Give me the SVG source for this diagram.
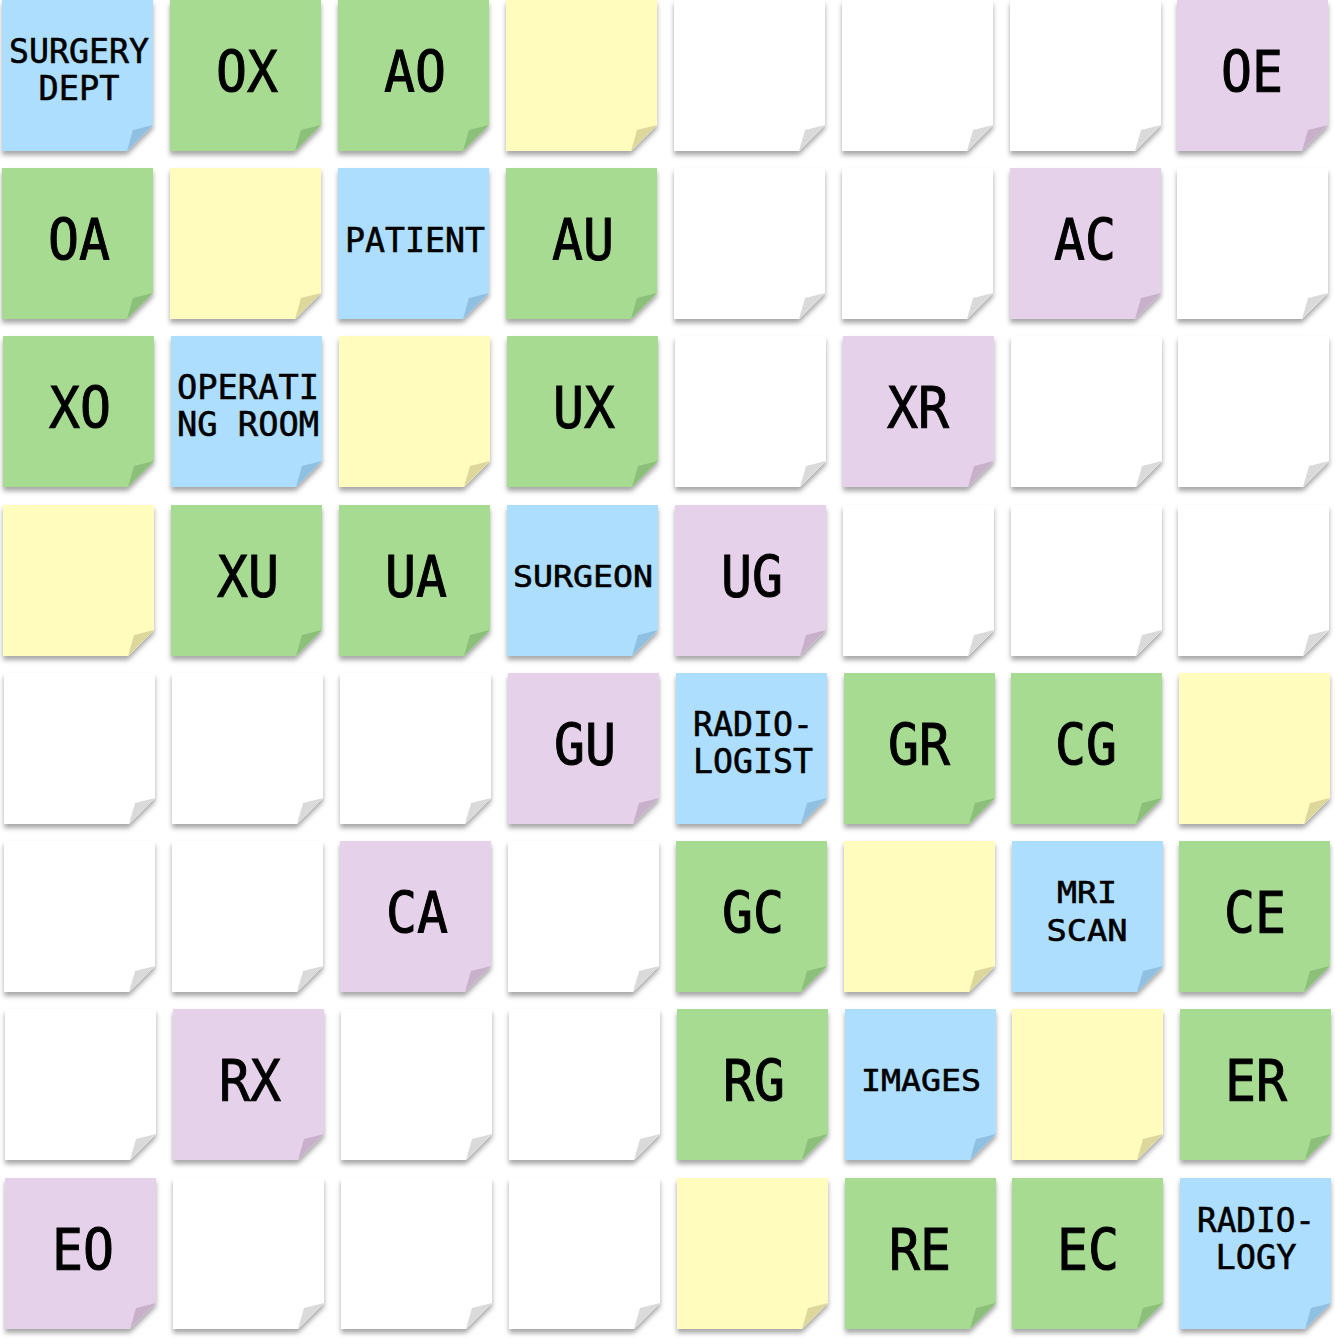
<svg xmlns="http://www.w3.org/2000/svg" width="1335" height="1341" viewBox="0 0 1335 1341">
<defs>
<filter id="sh" x="-10%" y="-10%" width="125%" height="125%">
<feDropShadow dx="0" dy="4" stdDeviation="2.5" flood-color="#000" flood-opacity="0.35"/>
</filter>
<path id="body" d="M0 0H151V125L125 151H0Z"/>
<path id="fold" d="M151 125L131 130L125 151Z"/>
</defs>
<style>
.n use.b{filter:url(#sh)}
.blue .b{fill:#aedefe}.blue .f{fill:#8fc0e2}
.green .b{fill:#a7db92}.green .f{fill:#8cbf79}
.yellow .b{fill:#fffcbe}.yellow .f{fill:#ddd79c}
.purple .b{fill:#e6d1ea}.purple .f{fill:#c8b0cb}
.white .b{fill:#ffffff}.white .f{fill:#dadada}
text{font-family:"DejaVu Sans Mono","Liberation Mono",monospace;fill:#000;text-anchor:middle;stroke:#000;stroke-width:0.6px}
.L{font-size:57px;stroke-width:1px}
.S{font-size:34px}
.M{font-size:31px}
</style>
<rect width="1335" height="1341" fill="#fff"/>
<g id="connectors"/>
<!-- row 0 -->
<g id="n00" class="n blue" transform="translate(2,0)"><use class="b" href="#body"/><use class="f" href="#fold"/><text class="S" x="77" y="63" textLength="140" lengthAdjust="spacingAndGlyphs">SURGERY</text><text class="S" x="77" y="100" textLength="81" lengthAdjust="spacingAndGlyphs">DEPT</text></g>
<g id="n01" class="n green" transform="translate(170,0)"><use class="b" href="#body"/><use class="f" href="#fold"/><text class="L" x="77" y="92" textLength="62" lengthAdjust="spacingAndGlyphs">OX</text></g>
<g id="n02" class="n green" transform="translate(338,0)"><use class="b" href="#body"/><use class="f" href="#fold"/><text class="L" x="77" y="92" textLength="62" lengthAdjust="spacingAndGlyphs">AO</text></g>
<g id="n03" class="n yellow" transform="translate(506,0)"><use class="b" href="#body"/><use class="f" href="#fold"/></g>
<g id="n04" class="n white" transform="translate(674,0)"><use class="b" href="#body"/><use class="f" href="#fold"/></g>
<g id="n05" class="n white" transform="translate(842,0)"><use class="b" href="#body"/><use class="f" href="#fold"/></g>
<g id="n06" class="n white" transform="translate(1010,0)"><use class="b" href="#body"/><use class="f" href="#fold"/></g>
<g id="n07" class="n purple" transform="translate(1177,0)"><use class="b" href="#body"/><use class="f" href="#fold"/><text class="L" x="75" y="92" textLength="62" lengthAdjust="spacingAndGlyphs">OE</text></g>
<!-- row 1 -->
<g id="n10" class="n green" transform="translate(2,168)"><use class="b" href="#body"/><use class="f" href="#fold"/><text class="L" x="77" y="92" textLength="62" lengthAdjust="spacingAndGlyphs">OA</text></g>
<g id="n11" class="n yellow" transform="translate(170,168)"><use class="b" href="#body"/><use class="f" href="#fold"/></g>
<g id="n12" class="n blue" transform="translate(338,168)"><use class="b" href="#body"/><use class="f" href="#fold"/><text class="S" x="77" y="84" textLength="140" lengthAdjust="spacingAndGlyphs">PATIENT</text></g>
<g id="n13" class="n green" transform="translate(506,168)"><use class="b" href="#body"/><use class="f" href="#fold"/><text class="L" x="77" y="92" textLength="62" lengthAdjust="spacingAndGlyphs">AU</text></g>
<g id="n14" class="n white" transform="translate(674,168)"><use class="b" href="#body"/><use class="f" href="#fold"/></g>
<g id="n15" class="n white" transform="translate(842,168)"><use class="b" href="#body"/><use class="f" href="#fold"/></g>
<g id="n16" class="n purple" transform="translate(1010,168)"><use class="b" href="#body"/><use class="f" href="#fold"/><text class="L" x="75" y="92" textLength="62" lengthAdjust="spacingAndGlyphs">AC</text></g>
<g id="n17" class="n white" transform="translate(1177,168)"><use class="b" href="#body"/><use class="f" href="#fold"/></g>
<!-- row 2 -->
<g id="n20" class="n green" transform="translate(3,336)"><use class="b" href="#body"/><use class="f" href="#fold"/><text class="L" x="77" y="92" textLength="62" lengthAdjust="spacingAndGlyphs">XO</text></g>
<g id="n21" class="n blue" transform="translate(171,336)"><use class="b" href="#body"/><use class="f" href="#fold"/><text class="S" x="77" y="63" textLength="142" lengthAdjust="spacingAndGlyphs">OPERATI</text><text class="S" x="77" y="100" textLength="142" lengthAdjust="spacingAndGlyphs">NG ROOM</text></g>
<g id="n22" class="n yellow" transform="translate(339,336)"><use class="b" href="#body"/><use class="f" href="#fold"/></g>
<g id="n23" class="n green" transform="translate(507,336)"><use class="b" href="#body"/><use class="f" href="#fold"/><text class="L" x="77" y="92" textLength="62" lengthAdjust="spacingAndGlyphs">UX</text></g>
<g id="n24" class="n white" transform="translate(675,336)"><use class="b" href="#body"/><use class="f" href="#fold"/></g>
<g id="n25" class="n purple" transform="translate(843,336)"><use class="b" href="#body"/><use class="f" href="#fold"/><text class="L" x="75" y="92" textLength="62" lengthAdjust="spacingAndGlyphs">XR</text></g>
<g id="n26" class="n white" transform="translate(1011,336)"><use class="b" href="#body"/><use class="f" href="#fold"/></g>
<g id="n27" class="n white" transform="translate(1178,336)"><use class="b" href="#body"/><use class="f" href="#fold"/></g>
<!-- row 3 -->
<g id="n30" class="n yellow" transform="translate(3,505)"><use class="b" href="#body"/><use class="f" href="#fold"/></g>
<g id="n31" class="n green" transform="translate(171,505)"><use class="b" href="#body"/><use class="f" href="#fold"/><text class="L" x="77" y="92" textLength="62" lengthAdjust="spacingAndGlyphs">XU</text></g>
<g id="n32" class="n green" transform="translate(339,505)"><use class="b" href="#body"/><use class="f" href="#fold"/><text class="L" x="77" y="92" textLength="62" lengthAdjust="spacingAndGlyphs">UA</text></g>
<g id="n33" class="n blue" transform="translate(507,505)"><use class="b" href="#body"/><use class="f" href="#fold"/><text class="M" x="76" y="82" textLength="140" lengthAdjust="spacingAndGlyphs">SURGEON</text></g>
<g id="n34" class="n purple" transform="translate(675,505)"><use class="b" href="#body"/><use class="f" href="#fold"/><text class="L" x="77" y="92" textLength="62" lengthAdjust="spacingAndGlyphs">UG</text></g>
<g id="n35" class="n white" transform="translate(843,505)"><use class="b" href="#body"/><use class="f" href="#fold"/></g>
<g id="n36" class="n white" transform="translate(1011,505)"><use class="b" href="#body"/><use class="f" href="#fold"/></g>
<g id="n37" class="n white" transform="translate(1178,505)"><use class="b" href="#body"/><use class="f" href="#fold"/></g>
<!-- row 4 -->
<g id="n40" class="n white" transform="translate(4,673)"><use class="b" href="#body"/><use class="f" href="#fold"/></g>
<g id="n41" class="n white" transform="translate(172,673)"><use class="b" href="#body"/><use class="f" href="#fold"/></g>
<g id="n42" class="n white" transform="translate(340,673)"><use class="b" href="#body"/><use class="f" href="#fold"/></g>
<g id="n43" class="n purple" transform="translate(508,673)"><use class="b" href="#body"/><use class="f" href="#fold"/><text class="L" x="77" y="92" textLength="62" lengthAdjust="spacingAndGlyphs">GU</text></g>
<g id="n44" class="n blue" transform="translate(676,673)"><use class="b" href="#body"/><use class="f" href="#fold"/><text class="S" x="77" y="63" textLength="120" lengthAdjust="spacingAndGlyphs">RADIO-</text><text class="S" x="77" y="100" textLength="120" lengthAdjust="spacingAndGlyphs">LOGIST</text></g>
<g id="n45" class="n green" transform="translate(844,673)"><use class="b" href="#body"/><use class="f" href="#fold"/><text class="L" x="75" y="92" textLength="62" lengthAdjust="spacingAndGlyphs">GR</text></g>
<g id="n46" class="n green" transform="translate(1011,673)"><use class="b" href="#body"/><use class="f" href="#fold"/><text class="L" x="75" y="92" textLength="62" lengthAdjust="spacingAndGlyphs">CG</text></g>
<g id="n47" class="n yellow" transform="translate(1179,673)"><use class="b" href="#body"/><use class="f" href="#fold"/></g>
<!-- row 5 -->
<g id="n50" class="n white" transform="translate(4,841)"><use class="b" href="#body"/><use class="f" href="#fold"/></g>
<g id="n51" class="n white" transform="translate(172,841)"><use class="b" href="#body"/><use class="f" href="#fold"/></g>
<g id="n52" class="n purple" transform="translate(340,841)"><use class="b" href="#body"/><use class="f" href="#fold"/><text class="L" x="77" y="92" textLength="62" lengthAdjust="spacingAndGlyphs">CA</text></g>
<g id="n53" class="n white" transform="translate(508,841)"><use class="b" href="#body"/><use class="f" href="#fold"/></g>
<g id="n54" class="n green" transform="translate(676,841)"><use class="b" href="#body"/><use class="f" href="#fold"/><text class="L" x="77" y="92" textLength="62" lengthAdjust="spacingAndGlyphs">GC</text></g>
<g id="n55" class="n yellow" transform="translate(844,841)"><use class="b" href="#body"/><use class="f" href="#fold"/></g>
<g id="n56" class="n blue" transform="translate(1012,841)"><use class="b" href="#body"/><use class="f" href="#fold"/><text class="M" x="75" y="62" textLength="60" lengthAdjust="spacingAndGlyphs">MRI</text><text class="M" x="75" y="100" textLength="81" lengthAdjust="spacingAndGlyphs">SCAN</text></g>
<g id="n57" class="n green" transform="translate(1179,841)"><use class="b" href="#body"/><use class="f" href="#fold"/><text class="L" x="76" y="92" textLength="62" lengthAdjust="spacingAndGlyphs">CE</text></g>
<!-- row 6 -->
<g id="n60" class="n white" transform="translate(5,1009)"><use class="b" href="#body"/><use class="f" href="#fold"/></g>
<g id="n61" class="n purple" transform="translate(173,1009)"><use class="b" href="#body"/><use class="f" href="#fold"/><text class="L" x="77" y="92" textLength="62" lengthAdjust="spacingAndGlyphs">RX</text></g>
<g id="n62" class="n white" transform="translate(341,1009)"><use class="b" href="#body"/><use class="f" href="#fold"/></g>
<g id="n63" class="n white" transform="translate(509,1009)"><use class="b" href="#body"/><use class="f" href="#fold"/></g>
<g id="n64" class="n green" transform="translate(677,1009)"><use class="b" href="#body"/><use class="f" href="#fold"/><text class="L" x="77" y="92" textLength="62" lengthAdjust="spacingAndGlyphs">RG</text></g>
<g id="n65" class="n blue" transform="translate(845,1009)"><use class="b" href="#body"/><use class="f" href="#fold"/><text class="M" x="76" y="82" textLength="120" lengthAdjust="spacingAndGlyphs">IMAGES</text></g>
<g id="n66" class="n yellow" transform="translate(1012,1009)"><use class="b" href="#body"/><use class="f" href="#fold"/></g>
<g id="n67" class="n green" transform="translate(1180,1009)"><use class="b" href="#body"/><use class="f" href="#fold"/><text class="L" x="76" y="92" textLength="62" lengthAdjust="spacingAndGlyphs">ER</text></g>
<!-- row 7 -->
<g id="n70" class="n purple" transform="translate(5,1178)"><use class="b" href="#body"/><use class="f" href="#fold"/><text class="L" x="78" y="92" textLength="62" lengthAdjust="spacingAndGlyphs">EO</text></g>
<g id="n71" class="n white" transform="translate(173,1178)"><use class="b" href="#body"/><use class="f" href="#fold"/></g>
<g id="n72" class="n white" transform="translate(341,1178)"><use class="b" href="#body"/><use class="f" href="#fold"/></g>
<g id="n73" class="n white" transform="translate(509,1178)"><use class="b" href="#body"/><use class="f" href="#fold"/></g>
<g id="n74" class="n yellow" transform="translate(677,1178)"><use class="b" href="#body"/><use class="f" href="#fold"/></g>
<g id="n75" class="n green" transform="translate(845,1178)"><use class="b" href="#body"/><use class="f" href="#fold"/><text class="L" x="75" y="92" textLength="62" lengthAdjust="spacingAndGlyphs">RE</text></g>
<g id="n76" class="n green" transform="translate(1012,1178)"><use class="b" href="#body"/><use class="f" href="#fold"/><text class="L" x="76" y="92" textLength="62" lengthAdjust="spacingAndGlyphs">EC</text></g>
<g id="n77" class="n blue" transform="translate(1180,1178)"><use class="b" href="#body"/><use class="f" href="#fold"/><text class="S" x="76" y="54" textLength="118" lengthAdjust="spacingAndGlyphs">RADIO-</text><text class="S" x="76" y="91" textLength="81" lengthAdjust="spacingAndGlyphs">LOGY</text></g>
</svg>
